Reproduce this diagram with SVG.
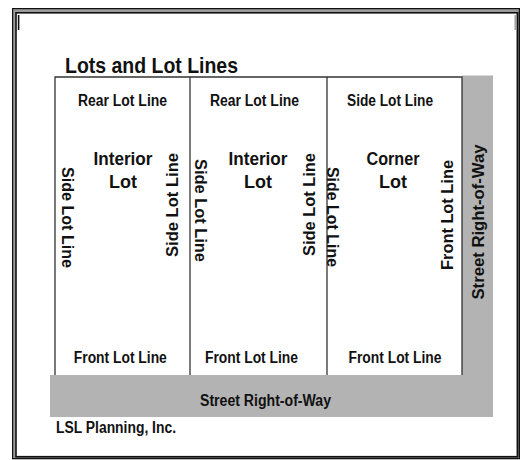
<svg xmlns="http://www.w3.org/2000/svg" width="520" height="460" viewBox="0 0 520 460">
  <style>
    text { font-family: "Liberation Sans", Arial, sans-serif; font-weight: bold; fill: #111; }
    .lbl { font-size: 16px; }
    .vlbl { font-size: 16px; }
    .lot { font-size: 18px; text-anchor: middle; }
    .mid { text-anchor: middle; }
    .row { fill: #b3b3b3; stroke: none; }
    .edge { stroke: #333; stroke-width: 1.3; fill: none; }
  </style>

  <!-- page frame -->
  <g id="frame">
    <rect x="14" y="10.5" width="504" height="447" fill="#fff" stroke="#9a9a9a" stroke-width="3.5"/>
    <rect x="12.6" y="8.6" width="506.8" height="450" fill="none" stroke="#111" stroke-width="1.2"/>
    <rect x="16" y="12.8" width="501.6" height="444" fill="none" stroke="#111" stroke-width="1.6"/>
    <line x1="18.6" y1="15" x2="18.6" y2="30" stroke="#111" stroke-width="1.6"/>
    <line x1="515.2" y1="15" x2="515.2" y2="30" stroke="#999" stroke-width="1.4"/>
  </g>

  <g id="title">
    <text x="65" y="73" font-size="22" textLength="173" lengthAdjust="spacingAndGlyphs">Lots and Lot Lines</text>
  </g>

  <!-- street right-of-way (L-shaped band) -->
  <g id="street-row">
    <rect class="row" x="462" y="75.5" width="31" height="300"/>
    <rect class="row" x="50" y="375" width="443" height="42"/>
    <text class="lbl mid" x="265.5" y="406" textLength="131" lengthAdjust="spacingAndGlyphs">Street Right-of-Way</text>
    <text class="vlbl mid" transform="translate(478,222) rotate(-90)" x="0" y="5.8" textLength="155" lengthAdjust="spacingAndGlyphs">Street Right-of-Way</text>
  </g>

  <!-- lot boundaries -->
  <g id="connectors">
    <polyline class="edge" points="55,375 55,77 462,77 462,375"/>
    <line class="edge" x1="190" y1="77" x2="190" y2="375"/>
    <line class="edge" x1="327" y1="77" x2="327" y2="375"/>
  </g>

  <g id="lot-interior-1">
    <text class="lbl mid" x="122.5" y="106" textLength="89" lengthAdjust="spacingAndGlyphs">Rear Lot Line</text>
    <text class="lot" x="123" y="165" textLength="59" lengthAdjust="spacingAndGlyphs">Interior</text>
    <text class="lot" x="123" y="188">Lot</text>
    <text class="vlbl mid" transform="translate(68.3,217.5) rotate(90)" x="0" y="5.8" textLength="101" lengthAdjust="spacingAndGlyphs">Side Lot Line</text>
    <text class="vlbl mid" transform="translate(172,205) rotate(-90)" x="0" y="5.8" textLength="104" lengthAdjust="spacingAndGlyphs">Side Lot Line</text>
    <text class="lbl mid" x="120.3" y="362.7" textLength="93" lengthAdjust="spacingAndGlyphs">Front Lot Line</text>
  </g>

  <g id="lot-interior-2">
    <text class="lbl mid" x="254.5" y="106" textLength="89" lengthAdjust="spacingAndGlyphs">Rear Lot Line</text>
    <text class="lot" x="258" y="165" textLength="59" lengthAdjust="spacingAndGlyphs">Interior</text>
    <text class="lot" x="258" y="188">Lot</text>
    <text class="vlbl mid" transform="translate(201,210.5) rotate(90)" x="0" y="5.8" textLength="103" lengthAdjust="spacingAndGlyphs">Side Lot Line</text>
    <text class="vlbl mid" transform="translate(309,204.5) rotate(-90)" x="0" y="5.8" textLength="103" lengthAdjust="spacingAndGlyphs">Side Lot Line</text>
    <text class="lbl mid" x="251.5" y="362.7" textLength="93" lengthAdjust="spacingAndGlyphs">Front Lot Line</text>
  </g>

  <g id="lot-corner">
    <text class="lbl mid" x="390" y="106" textLength="86" lengthAdjust="spacingAndGlyphs">Side Lot Line</text>
    <text class="lot" x="393" y="165" textLength="53" lengthAdjust="spacingAndGlyphs">Corner</text>
    <text class="lot" x="393" y="188">Lot</text>
    <text class="vlbl mid" transform="translate(332.5,217) rotate(90)" x="0" y="5.8" textLength="100" lengthAdjust="spacingAndGlyphs">Side Lot Line</text>
    <text class="vlbl mid" transform="translate(447,215) rotate(-90)" x="0" y="5.8" textLength="110" lengthAdjust="spacingAndGlyphs">Front Lot Line</text>
    <text class="lbl mid" x="395" y="362.7" textLength="93" lengthAdjust="spacingAndGlyphs">Front Lot Line</text>
  </g>

  <g id="credit">
    <text class="lbl" x="56" y="433" textLength="120" lengthAdjust="spacingAndGlyphs">LSL Planning, Inc.</text>
  </g>
</svg>
